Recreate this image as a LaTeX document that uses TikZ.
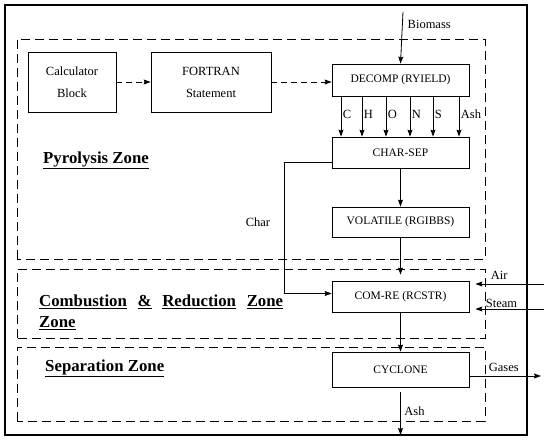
\documentclass[tikz,border=0pt]{standalone}
\usepackage{fontspec}
\setmainfont{Liberation Serif}
\usepackage{tikz}
\usetikzlibrary{arrows.meta, positioning, calc}

\begin{document}
\begin{tikzpicture}[
  x=1pt, y=1pt,
  box/.style={draw, line width=0.8pt, minimum width=137pt, align=center, font=\fontsize{11.5}{13}\selectfont, inner sep=1mm},
  calcbox/.style={draw, line width=0.8pt, minimum height=60pt, align=center, font=\fontsize{12.5}{22}\selectfont, inner sep=1mm},
  zone/.style={draw, dashed, dash pattern=on 9pt off 5pt, line width=0.9pt},
  lbl/.style={font=\fontsize{12.5}{14}\selectfont, inner sep=1.5pt},
  zonelbl/.style={font=\fontsize{16.8}{18}\selectfont\bfseries, inner sep=0pt, anchor=west},
  arr/.style={-{Stealth[length=7pt, width=5pt, inset=1pt]}, line width=0.8pt},
  dsh/.style={arr, dashed, dash pattern=on 6pt off 4pt}
]
\useasboundingbox (0,0) rectangle (550,442);
\draw[line width=1.3pt] (5,7) rectangle (527,437);

% zones
\draw[zone] (17,183) rectangle (485,403);
\draw[zone] (17,104) rectangle (485,173);
\draw[zone] (17,21) rectangle (485,95);

\node[zonelbl] (pyro) at (43,282) {\underline{Pyrolysis Zone}};
\node[zonelbl] (comb) at (39,140) {\makebox[244pt][s]{\underline{Combustion} \underline{\&} \underline{Reduction} \underline{Zone}}};
\node[zonelbl] (comb2) at (39,119) {\underline{Zone}};
\node[zonelbl] (sep) at (45,74) {\underline{Separation Zone}};

% blocks
\node[calcbox, minimum width=88pt] (calc) at (72,360) {Calculator\\ Block};
\node[calcbox, minimum width=120pt] (fort) at (211,360) {FORTRAN\\ Statement};
\node[box, minimum height=32pt] (decomp) at (400.5,362) {DECOMP (RYIELD)};
\node[box, minimum height=31pt] (charsep) at (400.5,289.5) {CHAR-SEP};
\node[box, minimum height=30pt] (volat) at (400.5,220) {VOLATILE (RGIBBS)};
\node[box, minimum height=31pt] (comre) at (400.5,145.5) {COM-RE (RCSTR)};
\node[box, minimum height=35pt] (cyclone) at (400.5,72.5) {CYCLONE};

\coordinate (bio) at (403,430);
\coordinate (airin) at (544,158);
\coordinate (steamin) at (544,133);
\coordinate (gasout) at (541,66);
\coordinate (ashout) at (400.5,7);

\draw[arr] (bio) -- (decomp.north);
\node[lbl, anchor=west] (biolbl) at (406,418) {Biomass};

\draw[dsh] (calc) -- (fort);
\draw[dsh] (fort.east) -- (fort.east -| decomp.west);

\foreach \dx/\el in {-59.5/C, -38.5/H, -14.5/O, 9.5/N, 32.5/S, 58.5/Ash}
  \draw[arr] ([xshift=\dx]decomp.south) -- node[lbl, right, pos=0.45] {\el} ([xshift=\dx]charsep.north);

\draw[arr] (charsep) -- (volat);
\draw[arr, shorten >=6pt] (volat) -- (comre);
\draw[arr] (comre) -- (cyclone);
\draw[arr] ([yshift=-10pt]charsep.west) -- ++(-47,0) |- ([yshift=3pt]comre.west);
\node[lbl] (charlbl) at (258,220) {Char};

\draw[arr, shorten >=6pt] (airin) -- node[lbl, above=3pt, pos=0.6] {Air} (airin -| comre.east);
\draw[arr, shorten >=6pt] (steamin) -- node[lbl, above=-1pt, pos=0.57] {Steam} (steamin -| comre.east);
\draw[arr] (gasout -| cyclone.east) -- node[lbl, above=2pt, pos=0.48] {Gases} (gasout);
\draw[arr, shorten <=5pt] (cyclone.south) -- node[lbl, right=2pt, pos=0.5] {Ash} (ashout);
\end{tikzpicture}
\end{document}
